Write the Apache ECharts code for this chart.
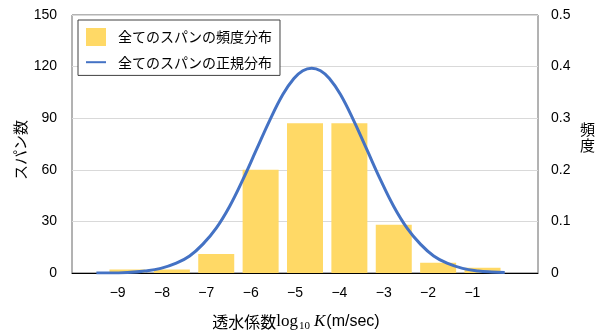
<!DOCTYPE html>
<html>
<head>
<meta charset="utf-8">
<script src="https://cdn.jsdelivr.net/npm/echarts@6/dist/echarts.min.js"></script>
<style>
  html, body { margin: 0; padding: 0; background: #fff; }
  #chart { width: 601px; height: 330px; }
</style>
</head>
<body>
<div id="chart"></div>
<script>
// Histogram classes (log10 K) and number of spans in each class
const classes = [-9, -8, -7, -6, -5, -4, -3, -2, -1];
const spanCounts = [2, 2, 11, 60, 87, 87, 28, 6, 3];

// Fitted normal curve, sampled points (x in class units, y = frequency)
const curveX = [-9.70, -9.40, -9.00, -8.60, -8.25, -7.90, -7.60, -7.30, -7.00, -6.70, -6.40, -6.10, -5.80, -5.50, -5.25, -5.05,
                -4.85, -4.65, -4.45, -4.20, -3.90, -3.60, -3.30, -3.00, -2.70, -2.40, -2.10, -1.80, -1.45, -1.10, -0.80, -0.50];
const curveY = [0.000, 0.000, 0.001, 0.004, 0.009, 0.019, 0.033, 0.056, 0.087, 0.129, 0.181, 0.238, 0.295, 0.346, 0.377, 0.392,
                0.397, 0.392, 0.377, 0.346, 0.295, 0.238, 0.181, 0.129, 0.087, 0.056, 0.033, 0.019, 0.009, 0.004, 0.002, 0.001];

// Axis tick labels
const tickValues = [-9, -8, -7, -6, -5, -4, -3, -2, -1];
const tickLabels = ['\u22129', '\u22128', '\u22127', '\u22126', '\u22125', '\u22124', '\u22123', '\u22122', '\u22121'];

const seriesBarName = '全てのスパンの頻度分布';
const seriesLineName = '全てのスパンの正規分布';

const SANS = '"Liberation Sans", Arial, sans-serif';
const CJK = '"Noto Sans CJK JP", sans-serif';
const SERIF = '"Liberation Serif", "DejaVu Serif", serif';

const chart = echarts.init(document.getElementById('chart'), null, { renderer: 'canvas' });

chart.setOption({
  animation: false,
  backgroundColor: '#fff',
  grid: {
    left: 72, right: 63, top: 15, bottom: 57,
    outerBoundsMode: 'none',
    containLabel: false,
    show: true, borderColor: '#666', borderWidth: 1, backgroundColor: 'transparent'
  },
  legend: {
    orient: 'vertical',
    left: 78, top: 20,
    padding: [8, 8, 6, 7],
    itemGap: 9,
    itemWidth: 20, itemHeight: 18,
    borderColor: '#404040', borderWidth: 1,
    backgroundColor: '#fff',
    textStyle: { fontFamily: CJK, fontSize: 14, color: '#000', padding: [0, 0, 0, 7] },
    data: [
      { name: seriesBarName, icon: 'rect' },
      { name: seriesLineName, itemStyle: { opacity: 0, color: 'rgba(0,0,0,0)', borderWidth: 0 } }
    ]
  },
  xAxis: [
    {
      // scale used by the bars and the curve
      type: 'value', min: -10.25, max: 0.25, show: false
    },
    {
      // visible axis carrying the class labels and the title
      type: 'value', min: -10.03, max: 0.48, position: 'bottom',
      axisLine: { show: true, lineStyle: { color: '#000', width: 1 } },
      axisTick: { show: false },
      splitLine: { show: false },
      axisLabel: {
        customValues: tickValues,
        formatter: v => tickLabels[tickValues.indexOf(Math.round(v))] || '',
        margin: 13, fontFamily: SANS, fontSize: 14, color: '#000'
      },
      name: '{j|透水係数}{m|log}{s|10}{k|K}{u|(m/sec)}',
      nameLocation: 'middle',
      nameGap: 39,
      nameMoveOverlap: false,
      nameTextStyle: {
        padding: [0, 18, 0, 0],
        rich: {
          j: { fontFamily: CJK, fontSize: 16, color: '#000' },
          m: { fontFamily: SERIF, fontSize: 17, color: '#000' },
          s: { fontFamily: SERIF, fontSize: 11, color: '#000', padding: [9, 0, 0, 1] },
          k: { fontFamily: SERIF, fontSize: 17, fontStyle: 'italic', color: '#000', padding: [0, 1, 0, 4] },
          u: { fontFamily: SANS, fontSize: 16, color: '#000' }
        }
      }
    }
  ],
  yAxis: [
    {
      type: 'value', min: 0, max: 150, interval: 30,
      axisLine: { show: false }, axisTick: { show: false },
      splitLine: { show: true, lineStyle: { color: '#d9d9d9', width: 1 } },
      axisLabel: { margin: 15, fontFamily: SANS, fontSize: 14, color: '#000' },
      name: 'スパン数', nameLocation: 'middle', nameRotate: 90, nameGap: 44,
      nameMoveOverlap: false,
      nameTextStyle: { fontFamily: CJK, fontSize: 15, color: '#000', padding: [0, 12, 0, 0] }
    },
    {
      type: 'value', min: 0, max: 0.5, interval: 0.1, position: 'right',
      axisLine: { show: false }, axisTick: { show: false },
      splitLine: { show: false },
      axisLabel: { margin: 13, fontFamily: SANS, fontSize: 14, color: '#000' },
      name: '{t|頻}\n{t|度}', nameLocation: 'middle', nameRotate: 0, nameGap: 42,
      nameMoveOverlap: false,
      nameTextStyle: {
        padding: [0, 0, 13, 0],
        rich: { t: { fontFamily: CJK, fontSize: 15, color: '#000', lineHeight: 16 } }
      }
    }
  ],
  series: [
    {
      name: seriesBarName,
      type: 'bar',
      xAxisIndex: 0, yAxisIndex: 0,
      barWidth: 36,
      itemStyle: { color: '#FFD966' },
      data: classes.map((c, i) => [c, spanCounts[i]])
    },
    {
      name: seriesLineName,
      type: 'line',
      xAxisIndex: 0, yAxisIndex: 1,
      smooth: 0.4,
      symbol: 'none',
      lineStyle: { color: '#4472C4', width: 3 },
      itemStyle: { color: '#4472C4' },
      data: curveX.map((x, i) => [x, curveY[i]])
    }
  ]
});
</script>
</body>
</html>
